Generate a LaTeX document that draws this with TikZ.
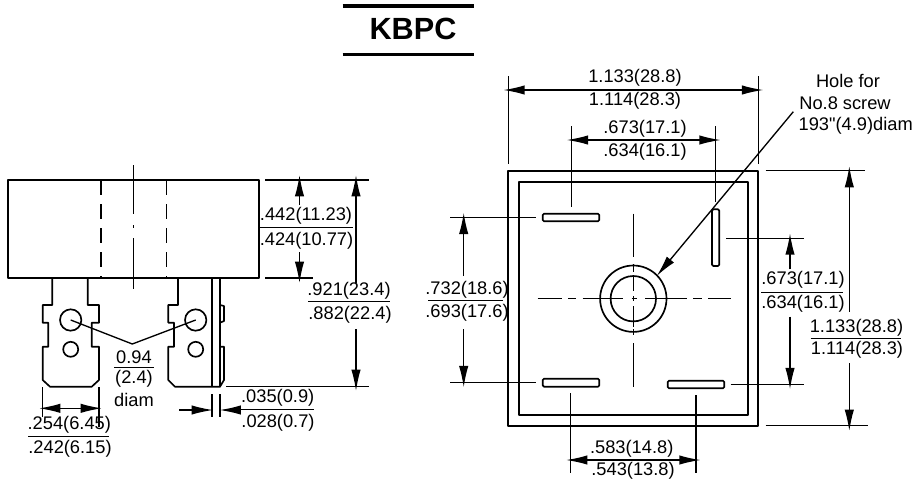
\documentclass[tikz,border=0pt]{standalone}
\usepackage{fontspec}
\setmainfont{Liberation Sans}[Ligatures=TeXOff]
\usetikzlibrary{arrows.meta}
\tikzset{
	outline/.style = {line width=1.25pt, line join=round},
	thinline/.style = {line width=1pt},
	dimline/.style = {line width=1pt, -{Latex[length=16pt, width=7pt]}},
	dimboth/.style = {line width=1pt, {Latex[length=16pt, width=7pt]}-{Latex[length=16pt, width=7pt]}},
	dimtext/.style = {font=\fontsize{13.7pt}{15pt}\selectfont, inner sep=0pt, anchor=center},
}
\begin{document}
\begin{tikzpicture} [x = 0.75pt, y = -0.75pt]

	\useasboundingbox (0,0) rectangle (913,479);

% Title.

	\draw[line width=2.8pt] (342.7,5.7) -- (474,5.7);
	\draw[line width=2.8pt] (342.7,54.5) -- (474,54.5);
	\node[font=\fontsize{23pt}{26pt}\selectfont\bfseries, inner sep=0pt] (title) at (413,28.5) {KBPC};

% Define coordinates.

	%side view dimensions
	\coordinate (bodyTop) at (299.5,175);
	\coordinate (bodyTopEnd) at (299.5,205);
	\coordinate (bodyLow) at (299.5,283);
	\coordinate (bodyLowEnd) at (299.5,252);
	\coordinate (allTop) at (356,175);
	\coordinate (allTopEnd) at (356,283);
	\coordinate (allLow) at (356,391);
	\coordinate (allLowEnd) at (356,329);
	\coordinate (leadLeft) at (39,408.3);
	\coordinate (leadRight) at (102,408.3);
	\coordinate (thinLeft) at (213,410);
	\coordinate (thinLeftEnd) at (179.3,410);
	\coordinate (thinRight) at (219.5,410);
	\coordinate (thinRightEnd) at (240,410);

	%plan view dimensions
	\coordinate (widthLeft) at (503.3,90);
	\coordinate (widthRight) at (763.3,90);
	\coordinate (pinsLeft) at (566.7,140);
	\coordinate (pinsRight) at (720.7,140);
	\coordinate (lowLeft) at (566,460);
	\coordinate (lowRight) at (700.7,460);
	\coordinate (pinTop) at (463.7,212.7);
	\coordinate (pinTopEnd) at (463.7,276);
	\coordinate (pinLow) at (463.7,387.3);
	\coordinate (pinLowEnd) at (463.7,329.3);
	\coordinate (sideTop) at (790,233.3);
	\coordinate (sideTopEnd) at (790,269.3);
	\coordinate (sideLow) at (790,389.3);
	\coordinate (sideLowEnd) at (790,316.7);
	\coordinate (outerTop) at (849.3,166);
	\coordinate (outerTopEnd) at (849.3,311.7);
	\coordinate (outerLow) at (849.3,431);
	\coordinate (outerLowEnd) at (849.3,363.3);
	\coordinate (holeTail) at (793.3,111.7);
	\coordinate (holeTip) at (656.7,276);

% Draw side view.

	\draw[outline] (8,180) rectangle (259,278);
	\draw[outline, dash pattern=on 11pt off 7pt] (101,180) -- (101,278);
	\draw[outline, dash pattern=on 11pt off 7pt] (166.5,180) -- (166.5,278);
	\draw[thinline] (133.5,165) -- (133.5,214);
	\draw[thinline] (133.5,225) -- (133.5,228);
	\draw[thinline] (133.5,238) -- (133.5,289);

	%left lead
	\draw[outline] (52.3,278) -- (52.3,305) -- (42.7,305) -- (42.7,322.7) -- (48.3,322.7) -- (48.3,346.7)
		-- (42.7,346.7) -- (42.7,380) -- (50,386.7) -- (91.7,386.7) -- (99,380) -- (99,346.7) -- (91.7,346.7)
		-- (91.7,322.7) -- (99,322.7) -- (99,305) -- (87.7,305) -- (87.7,278);
	\draw[outline] (70.7,320) circle (10.7);
	\draw[outline] (70.7,349.3) circle (7.5);

	%right lead
	\draw[outline] (178,278) -- (178,305) -- (168.3,305) -- (168.3,322.7) -- (174,322.7) -- (174,346.7)
		-- (168.3,346.7) -- (168.3,380) -- (175,386.7) -- (220,386.7) -- (224,380) -- (224,346.7) -- (220,346.7);
	\draw[outline] (212,278) -- (212,386.7);
	\draw[outline] (220,278) -- (220,386.7);
	\draw[outline] (220,305) -- (224,306) -- (224,321) -- (220,322.7);
	\draw[outline] (195.7,320) circle (10.7);
	\draw[outline] (195.7,349.3) circle (7.5);

	%hole leader
	\draw[thinline] (70.7,320) -- (132.3,344) -- (195.7,320);
	\node[dimtext] (holeA) at (134,357) {0.94};
	\draw[thinline] (114,367.7) -- (154,367.7);
	\node[dimtext] (holeB) at (134,379) {(2.4)};
	\node[dimtext] (holeC) at (134,400) {diam};

% Draw side view dimensions.

	\draw[thinline] (265,180) -- (369,180);
	\draw[thinline] (265,278) -- (313,278);
	\draw[thinline] (226,386.7) -- (369,386.7);
	\draw[dimline] (bodyTopEnd) -- (bodyTop);
	\draw[dimline] (bodyLowEnd) -- (bodyLow);
	\draw[dimline] (allTopEnd) -- (allTop);
	\draw[dimline] (allLowEnd) -- (allLow);
	\draw[thinline] (42.7,387) -- (42.7,417);
	\draw[thinline] (99,387) -- (99,427);
	\draw[dimboth] (leadLeft) -- (leadRight);
	\draw[thinline] (212,394) -- (212,417);
	\draw[thinline] (220,394) -- (220,417);
	\draw[dimline] (thinLeftEnd) -- (thinLeft);
	\draw[dimline] (thinRightEnd) -- (thinRight);

	\node[dimtext] (bodyA) at (306,216) {.442(11.23)};
	\draw[thinline] (259,227.3) -- (352.7,227.3);
	\node[dimtext] (bodyB) at (306.5,240.7) {.424(10.77)};
	\node[dimtext] (allA) at (349,290.7) {.921(23.4)};
	\draw[thinline] (308,301.7) -- (390,301.7);
	\node[dimtext] (allB) at (350,315) {.882(22.4)};
	\node[dimtext] (leadA) at (69.3,425) {.254(6.45)};
	\draw[thinline] (28,436.7) -- (109,436.7);
	\node[dimtext] (leadB) at (70,449) {.242(6.15)};
	\node[dimtext] (thinA) at (277.7,398) {.035(0.9)};
	\draw[thinline] (240.7,409.3) -- (314,409.3);
	\node[dimtext] (thinB) at (278,423) {.028(0.7)};

% Draw plan view.

	\draw[outline] (508.3,170.7) rectangle (758.3,425.7);
	\draw[outline] (518.7,182) rectangle (748.3,415.3);
	\draw[outline, rounded corners=1pt] (542.7,213.7) rectangle (599.3,221.3);
	\draw[outline, rounded corners=1pt] (712,209.3) rectangle (719.3,266);
	\draw[outline, rounded corners=1pt] (542.7,378.7) rectangle (599.3,386.7);
	\draw[outline, rounded corners=1pt] (667.7,380.7) rectangle (724.3,388.3);
	\draw[outline] (633.3,298.7) circle (33.2);
	\draw[outline] (633.3,298.7) circle (22.7);

	%centre lines
	\foreach \from/\to in {537.7/561.7, 568/576, 582.7/623.3, 631.7/636.7, 645/686.7, 693/701.7, 708.3/731}
		\draw[thinline] (\from,298.7) -- (\to,298.7);
	\foreach \from/\to in {213.7/256.7, 264.3/271.7, 275/291, 296/301, 306/327, 329/335, 343.3/386.7}
		\draw[thinline] (633.3,\from) -- (633.3,\to);

% Draw plan view dimensions.

	\draw[thinline] (508.3,76) -- (508.3,164);
	\draw[thinline] (758.3,76) -- (758.3,164);
	\draw[dimboth] (widthLeft) -- (widthRight);
	\node[dimtext] (widthA) at (635,77.7) {1.133(28.8)};
	\node[dimtext] (widthB) at (635,101) {1.114(28.3)};

	\draw[thinline] (571.7,126) -- (571.7,206.7);
	\draw[thinline] (715.7,126) -- (715.7,201.7);
	\draw[dimboth] (pinsLeft) -- (pinsRight);
	\node[dimtext] (pinsA) at (645,128.3) {.673(17.1)};
	\node[dimtext] (pinsB) at (645,151.7) {.634(16.1)};

	\draw[thinline] (570.7,393.3) -- (570.7,473.3);
	\draw[thinline] (696,395) -- (696,473.3);
	\draw[dimboth] (lowLeft) -- (lowRight);
	\node[dimtext] (lowA) at (631.7,448.3) {.583(14.8)};
	\node[dimtext] (lowB) at (633,471) {.543(13.8)};

	\draw[thinline] (450,217.7) -- (536,217.7);
	\draw[thinline] (450,382.3) -- (536,382.3);
	\draw[dimline] (pinTopEnd) -- (pinTop);
	\draw[dimline] (pinLowEnd) -- (pinLow);
	\node[dimtext] (pinA) at (467,290) {.732(18.6)};
	\draw[thinline] (428,300.7) -- (502.7,300.7);
	\node[dimtext] (pinB) at (467,312.7) {.693(17.6)};

	\draw[thinline] (726,238.3) -- (804,238.3);
	\draw[thinline] (730.7,384.3) -- (804,384.3);
	\draw[dimline] (sideTopEnd) -- (sideTop);
	\draw[dimline] (sideLowEnd) -- (sideLow);
	\node[dimtext] (sideA) at (803,279.3) {.673(17.1)};
	\draw[thinline] (761,292.3) -- (843.3,292.3);
	\node[dimtext] (sideB) at (803,303.3) {.634(16.1)};

	\draw[thinline] (765.7,170.7) -- (865,170.7);
	\draw[thinline] (765.7,425.7) -- (867.7,425.7);
	\draw[dimline] (outerTopEnd) -- (outerTop);
	\draw[dimline] (outerLowEnd) -- (outerLow);
	\node[dimtext] (outerA) at (856.5,327.7) {1.133(28.8)};
	\draw[thinline] (810.7,338.3) -- (900.7,338.3);
	\node[dimtext] (outerB) at (857,350) {1.114(28.3)};

% Draw label arrow.

	\draw[dimline] (holeTail) -- (holeTip);
	\node[dimtext] (screwA) at (848,81) {Hole for};
	\node[dimtext] (screwB) at (845,103.3) {No.8 screw};
	\node[dimtext] (screwC) at (855.7,126) {193"(4.9)diam};

\end{tikzpicture}
\end{document}
